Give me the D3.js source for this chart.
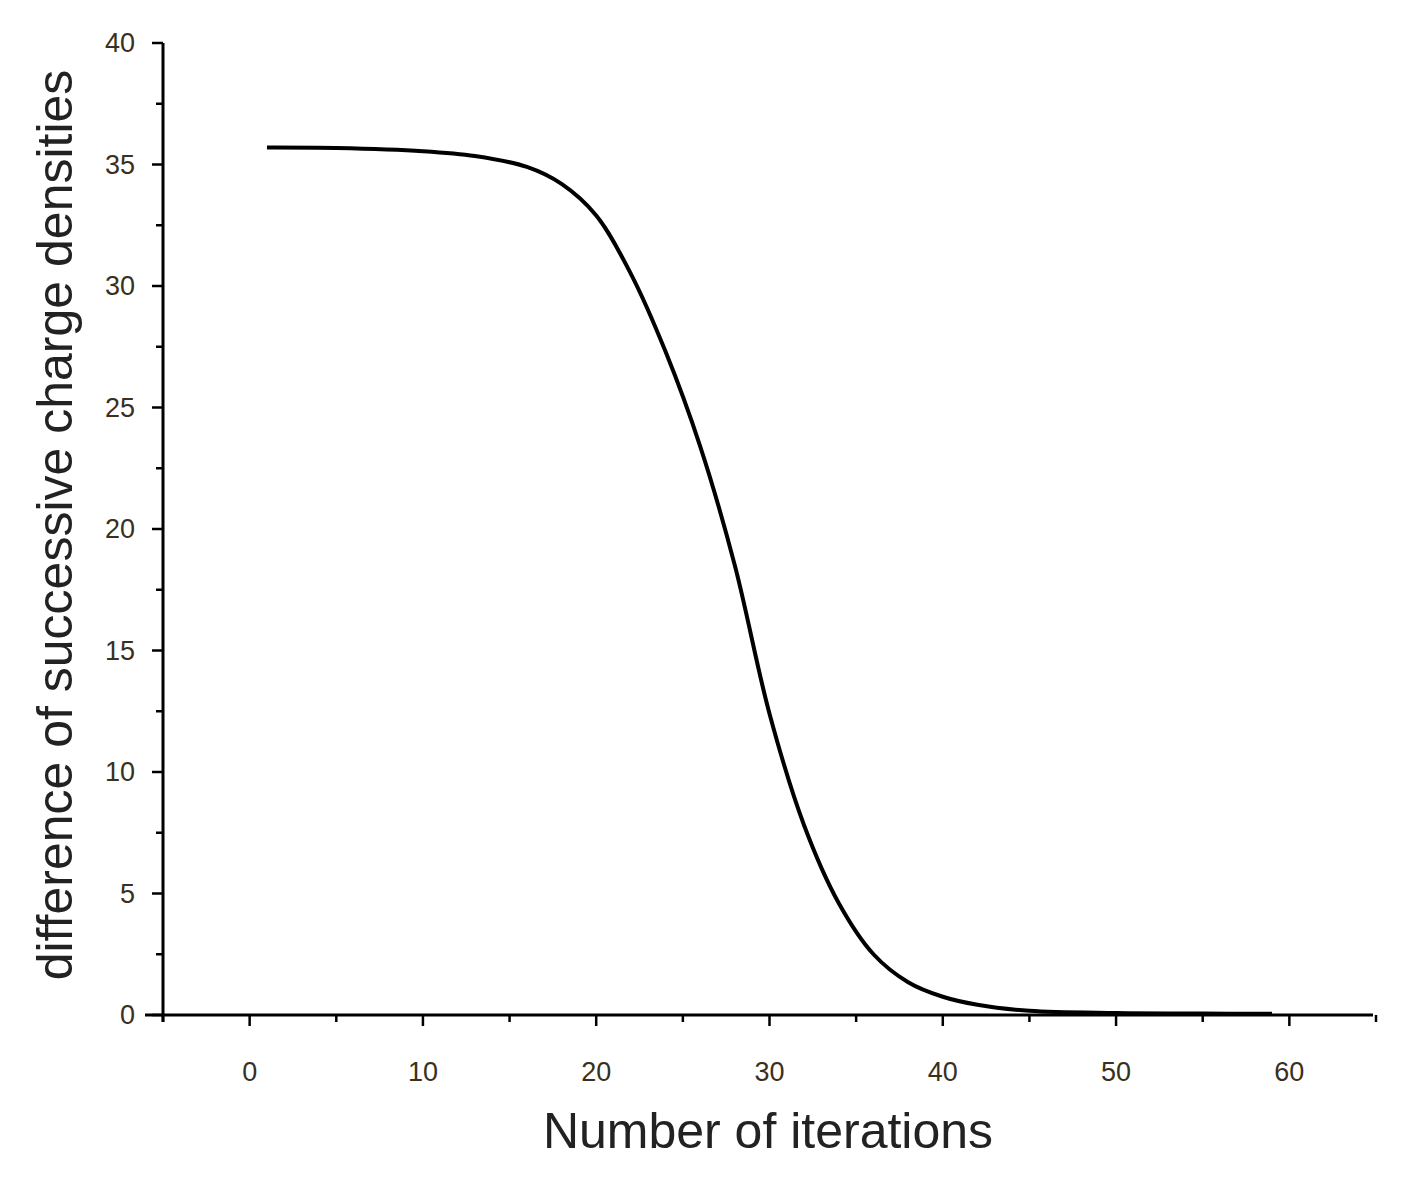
<!DOCTYPE html><html><head><meta charset="utf-8">
<script src="https://cdn.jsdelivr.net/npm/d3@7"></script>
<style>body{margin:0;background:#fff}</style></head><body><svg id="c" width="1404" height="1179"></svg>
<script>
const iterations=[1,5,10,13,16,18,20,22,24,26,28,30,32,34,36,38,40,42,45,50,55,59];
const diffValues=[35.7,35.68,35.55,35.35,34.9,34.2,32.9,30.5,27.3,23.4,18.5,12.4,7.8,4.6,2.5,1.35,0.75,0.42,0.17,0.08,0.06,0.05];
const xTicks=[0,10,20,30,40,50,60];
const yTicks=[0,5,10,15,20,25,30,35,40];
const svg=d3.select("#c");
const x=d3.scaleLinear().domain([-5,65]).range([163,1376]);
const y=d3.scaleLinear().domain([0,40]).range([1015,43]);
const font="Liberation Sans, Arial, sans-serif";
const gx=svg.append("g").attr("transform","translate(0,1015)");
gx.append("line").attr("x1",145).attr("x2",1373).attr("stroke","#000").attr("stroke-width",3);
d3.range(-5,66,5).forEach(v=>{const major=v%10===0;
 gx.append("line").attr("x1",x(v)).attr("x2",x(v)).attr("y1",0).attr("y2",major?11:7).attr("stroke","#000").attr("stroke-width",2.5);});
gx.selectAll("text").data(xTicks).join("text").attr("x",d=>x(d)).attr("y",66).attr("text-anchor","middle")
 .attr("font-family",font).attr("font-size",27).attr("fill","#3a3020").text(d=>d);
const gy=svg.append("g").attr("transform","translate(163,0)");
gy.append("line").attr("y1",43).attr("y2",1022).attr("stroke","#000").attr("stroke-width",3);
d3.range(0,40.1,2.5).forEach(v=>{const major=v%5===0;
 gy.append("line").attr("y1",y(v)).attr("y2",y(v)).attr("x1",0).attr("x2",major?-11:-7).attr("stroke","#000").attr("stroke-width",2.5);});
gy.selectAll("text").data(yTicks).join("text").attr("x",-28).attr("y",d=>y(d)+9).attr("text-anchor","end")
 .attr("font-family",font).attr("font-size",27).attr("fill","#3a3020").text(d=>d);
svg.append("path").datum(iterations.map((d,i)=>[d,diffValues[i]]))
 .attr("d",d3.line().x(d=>x(d[0])).y(d=>y(d[1])).curve(d3.curveCatmullRom.alpha(0.5)))
 .attr("fill","none").attr("stroke","#000").attr("stroke-width",4);
svg.append("text").attr("x",768).attr("y",1148).attr("text-anchor","middle").attr("font-family",font)
 .attr("font-size",50).attr("fill","#222").text("Number of iterations");
svg.append("text").attr("transform","translate(72,525) rotate(-90)").attr("text-anchor","middle").attr("font-family",font)
 .attr("font-size",50).attr("fill","#222").text("difference of successive charge densities");
</script></body></html>
